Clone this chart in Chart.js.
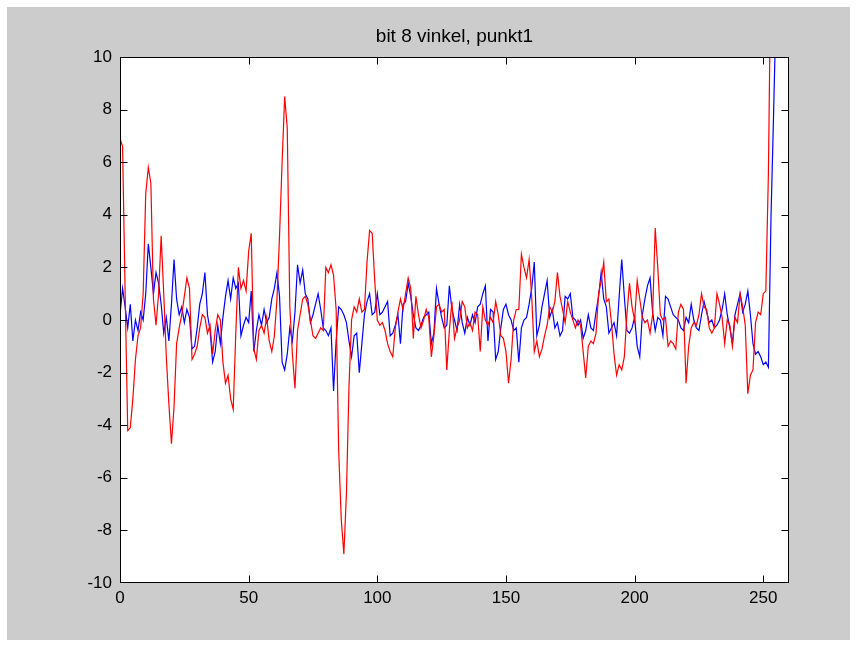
<!DOCTYPE html>
<html>
<head>
<meta charset="utf-8">
<title>bit 8 vinkel, punkt1</title>
<script src="https://cdn.jsdelivr.net/npm/chart.js@4.4.1/dist/chart.umd.min.js"></script>
<style>
  html, body { margin: 0; padding: 0; background: #ffffff; }
  #figure { position: absolute; left: 7px; top: 7px; width: 843px; height: 633px; background: #cccccc; }
  #wrap { position: absolute; left: 0; top: 0; width: 857px; height: 646px; }
</style>
</head>
<body>
<div id="figure"></div>
<div id="wrap"><canvas id="plot"></canvas></div>
<script>
// Title and axis ticks
const titleText = 'bit 8 vinkel, punkt1';
const xTicks = [0, 50, 100, 150, 200, 250];
const yTicks = [-10, -8, -6, -4, -2, 0, 2, 4, 6, 8, 10];

// Sample values, one per index (0..255)
const redValues = [
    6.9, 6.6, 1.0, -4.2, -4.1, -3.0, -1.5, -0.6, -0.3, 1.0,
    4.8, 5.8, 5.2, 0.8, -0.2, 1.0, 3.2, 1.0, -1.4, -3.2,
    -4.7, -3.3, -0.9, -0.3, 0.2, 0.9, 1.6, 1.2, -1.5, -1.3,
    -1.0, -0.3, 0.2, 0.1, -0.5, -0.2, -1.3, -0.4, 0.2, 0.0,
    -1.6, -2.4, -2.1, -3.0, -3.4, -0.5, 2.0, 1.2, 1.5, 1.1,
    2.6, 3.3, -1.1, -1.5, -0.4, -0.2, -0.5, 0.1, -0.8, -1.2,
    -0.6, 0.8, 3.2, 6.0, 8.5, 7.3, 0.5, -1.3, -2.6, -0.4,
    0.2, 0.8, 0.9, 0.6, 0.0, -0.6, -0.7, -0.5, -0.3, -0.4,
    2.0, 1.8, 2.1, 1.7, 0.4, -5.0, -7.6, -8.9, -6.6, -2.5,
    0.0, 0.5, 0.3, 0.8, 0.3, 0.4, 2.2, 3.4, 3.3, 1.5,
    0.0, -0.2, -0.1, -0.4, -0.9, -1.2, -1.4, -0.3, 0.3, 0.8,
    0.4, 1.0, 1.6, 1.2, -0.7, 0.9, 0.2, -0.3, 0.0, 0.4,
    0.1, -1.4, -0.6, 0.5, 0.6, 0.3, 0.4, -1.9, -0.4, 0.7,
    -0.7, -0.3, 0.0, 0.7, 0.5, -0.3, -0.1, -0.4, 0.3, 0.2,
    -1.2, 0.5, 0.0, -0.2, 0.1, -0.1, 0.7, 0.2, -0.6, -0.7,
    -1.2, -2.4, -1.5, 0.0, 0.4, 0.4, 2.5, 2.0, 1.6, 2.3,
    0.9, -1.2, -0.8, -1.4, -1.1, -0.6, -0.2, 0.5, 0.3, 0.7,
    1.8, 0.9, 0.4, -0.1, 0.7, 0.3, 0.0, -0.3, 0.0, -0.2,
    -1.2, -2.2, -1.0, -0.8, -0.9, -0.5, 1.0, 1.5, 2.2, 0.7,
    0.8, -0.1, -1.3, -2.1, -1.7, -1.9, -1.4, 0.2, 1.4, 0.5,
    0.0, 1.5, 0.8, 0.1, -0.1, 0.0, -0.5, 0.2, 3.5, 2.0,
    0.2, 0.0, 0.1, -1.0, -0.8, -0.9, -1.1, 0.3, 0.6, 0.4,
    -2.4, -1.0, -0.3, -0.1, -0.2, 0.2, 1.0, 0.5, 0.4, -0.3,
    -0.5, -0.3, 1.0, 0.6, 0.1, -0.9, 0.0, -0.2, -1.0, 0.1,
    -0.1, 1.0, 0.5, -0.2, -2.8, -2.1, -1.9, -0.1, 0.3, 0.2,
    1.0, 1.1, 5.6, 14.0, 18.0, 20.0
];

const blueValues = [
    0.2, 1.2, 0.5, -0.3, 0.6, -0.8, 0.0, -0.4, 0.3, 0.0,
    1.0, 2.9, 2.0, 1.0, 1.8, 1.4, 0.6, -0.5, 0.1, -0.8,
    0.6, 2.3, 0.8, 0.2, 0.5, -0.1, 0.4, 0.1, -1.1, -1.0,
    -0.3, 0.6, 1.0, 1.8, 0.2, -0.4, -1.6, -1.2, -0.2, -0.9,
    0.1, 0.9, 1.5, 0.8, 1.6, 1.2, 1.4, -0.6, -0.2, 0.1,
    -0.1, 1.1, -1.2, -0.4, 0.2, -0.2, 0.4, -0.1, 0.1, 0.8,
    1.2, 1.8, 0.9, -1.6, -1.9, -1.3, -0.3, -0.8, 0.3, 2.1,
    1.4, 1.9, 1.0, 0.8, -0.1, 0.2, 0.6, 1.0, 0.4, -0.3,
    -0.4, -0.6, -0.3, -2.7, -0.8, 0.5, 0.4, 0.2, -0.1, -0.8,
    -1.4, -0.6, -0.5, -2.0, -0.9, 0.2, 0.7, 1.0, 0.2, 0.3,
    1.0, 0.2, 0.3, 0.5, 0.7, -0.6, -0.5, -0.2, 0.2, -0.9,
    0.6, 0.7, 1.4, 0.9, 0.2, -0.3, -0.4, -0.2, 0.1, 0.2,
    0.3, -0.9, -0.5, 1.2, 0.6, 0.1, -0.3, -0.2, 1.3, 0.4,
    0.0, -0.4, 0.6, -0.1, -0.5, 0.1, -0.2, 0.2, -0.1, 0.5,
    0.6, 1.0, 1.3, -0.8, 0.4, 0.3, -1.5, -1.2, -0.3, 0.4,
    0.6, 0.2, 0.0, -0.4, -0.3, -1.6, -0.3, 0.0, 0.1, 0.6,
    1.2, 2.2, -0.6, -0.2, 0.5, 1.0, 1.5, 0.1, 0.4, -0.3,
    -0.1, -0.6, -0.4, 0.9, 0.8, 1.0, 0.1, 0.0, -0.2, 0.0,
    -0.7, -0.4, 0.2, -0.3, -0.4, 0.3, 0.9, 1.8, 0.8, 0.5,
    -0.5, -0.3, -0.1, -0.6, 0.9, 2.3, 0.9, -0.4, -0.5, -0.3,
    0.1, -1.0, -1.4, 0.2, 0.8, 1.3, 1.6, 0.3, -0.4, 0.1,
    0.0, -0.6, 0.9, 0.8, 0.5, 0.2, 0.1, 0.0, -0.3, -0.4,
    0.1, -0.1, 0.6, 0.0, -0.3, -0.4, 0.2, 0.7, 0.3, -0.1,
    0.0, -0.3, -0.2, 0.0, 0.4, 1.0, 0.2, -0.3, -0.9, 0.2,
    0.6, 1.0, 0.3, 0.6, 1.1, 0.2, -0.9, -1.3, -1.2, -1.4,
    -1.7, -1.6, -1.8, 3.9, 7.8, 12.0
];

function toPoints(values) {
    return values.map((v, i) => ({ x: i, y: v }));
}

const FONT = '"Liberation Sans", Arial, Helvetica, sans-serif';

// White axes box, black frame, inward ticks on all four sides, title
const framePlugin = {
    id: 'frame',
    beforeDraw(chart) {
        const { ctx, chartArea: a } = chart;
        ctx.save();
        ctx.fillStyle = '#ffffff';
        ctx.fillRect(a.left, a.top, a.right - a.left, a.bottom - a.top);
        ctx.restore();
    },
    afterDraw(chart) {
        const { ctx, chartArea: a, scales } = chart;
        const L = Math.round(a.left) + 0.5, R = Math.round(a.right) - 0.5;
        const T = Math.round(a.top) + 0.5, B = Math.round(a.bottom) - 0.5;
        const len = 7;
        const clamp = (v, lo, hi) => Math.min(hi, Math.max(lo, v));
        ctx.save();
        ctx.strokeStyle = '#000000';
        ctx.lineWidth = 1;
        ctx.strokeRect(L, T, R - L, B - T);
        ctx.beginPath();
        xTicks.forEach(v => {
            const px = clamp(Math.round(scales.x.getPixelForValue(v)) + 0.5, L, R);
            ctx.moveTo(px, B); ctx.lineTo(px, B - len);
            ctx.moveTo(px, T); ctx.lineTo(px, T + len);
        });
        yTicks.forEach(v => {
            const py = clamp(Math.round(scales.y.getPixelForValue(v)) + 0.5, T, B);
            ctx.moveTo(L, py); ctx.lineTo(L + len, py);
            ctx.moveTo(R, py); ctx.lineTo(R - len, py);
        });
        ctx.stroke();

        ctx.fillStyle = '#000000';
        ctx.font = '19px ' + FONT;
        ctx.textAlign = 'center';
        ctx.textBaseline = 'middle';
        ctx.fillText(titleText, (a.left + a.right) / 2, 37);
        ctx.restore();
    }
};

const ctx = document.getElementById('plot').getContext('2d');
new Chart(ctx, {
    type: 'line',
    data: {
        datasets: [{
            label: 'red',
            data: toPoints(redValues),
            borderColor: '#ff0000',
            borderWidth: 1.2,
            pointRadius: 0,
            tension: 0,
            fill: false
        }, {
            label: 'blue',
            data: toPoints(blueValues),
            borderColor: '#0000ff',
            borderWidth: 1.2,
            pointRadius: 0,
            tension: 0,
            fill: false
        }]
    },
    options: {
        responsive: true,
        maintainAspectRatio: false,
        animation: false,
        events: [],
        layout: {
            padding: { top: 57, right: 68, left: 0, bottom: 0 }
        },
        plugins: {
            legend: { display: false },
            title: { display: false },
            tooltip: { enabled: false }
        },
        scales: {
            x: {
                type: 'linear',
                min: 0,
                max: 260,
                grid: { display: false, drawTicks: false },
                border: { display: false },
                ticks: {
                    stepSize: 50,
                    includeBounds: false,
                    autoSkip: false,
                    maxRotation: 0,
                    padding: 5,
                    color: '#000000',
                    font: { family: FONT, size: 17 }
                },
                afterFit(scale) { scale.height = 63; }
            },
            y: {
                type: 'linear',
                min: -10,
                max: 10,
                grid: { display: false, drawTicks: false },
                border: { display: false },
                ticks: {
                    stepSize: 2,
                    autoSkip: false,
                    padding: 8,
                    color: '#000000',
                    font: { family: FONT, size: 17 }
                },
                afterFit(scale) { scale.width = 120; }
            }
        }
    },
    plugins: [framePlugin]
});
</script>
</body>
</html>
